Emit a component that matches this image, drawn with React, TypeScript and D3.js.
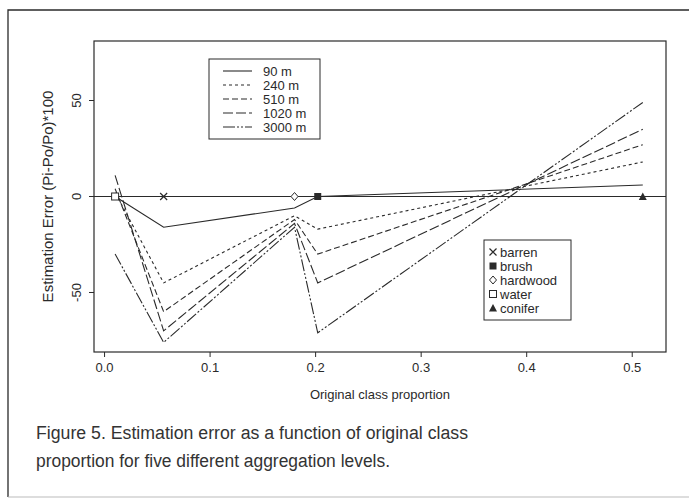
import React from "react";
import * as d3 from "d3";

// Class proportions at which each aggregation level was evaluated
const proportions = [0.01, 0.056, 0.18, 0.202, 0.51];

// Estimation error (%) per aggregation level
const levels = ["90 m", "240 m", "510 m", "1020 m", "3000 m"];
const err90 = [0, -16, -6, 0, 6];
const err240 = [2, -45, -10, -17, 18];
const err510 = [4, -60, -12, -30, 27];
const err1020 = [11, -70, -14, -45, 35];
const err3000 = [-30, -76, -16, -71, 49];
const seriesValues = [err90, err240, err510, err1020, err3000];
const dashes = ["none", "3,3", "6,3", "10,3", "12,2,2,2,2,2"];

// Land cover classes marked on the zero line
const classNames = ["barren", "brush", "hardwood", "water", "conifer"];
const classProps = [0.056, 0.202, 0.18, 0.01, 0.51];

const xTicks = [0, 0.1, 0.2, 0.3, 0.4, 0.5];
const yTicks = [50, 0, -50];

const W = 689;
const H = 501;
const left = 94, right = 666, top = 41, bottom = 352;
const ink = "#2a2a2a";
const font = "'Liberation Sans', Arial, Helvetica, sans-serif";

function Marker({ kind, x, y }: { kind: string; x: number; y: number }) {
  const s = 3.5;
  switch (kind) {
    case "barren":
      return (
        <path d={`M${x - s},${y - s}L${x + s},${y + s}M${x - s},${y + s}L${x + s},${y - s}`}
          stroke={ink} strokeWidth={1.2} fill="none" />
      );
    case "brush":
      return <rect x={x - s} y={y - s} width={2 * s} height={2 * s} fill={ink} />;
    case "hardwood":
      return (
        <path d={`M${x},${y - s - 0.5}L${x + s},${y}L${x},${y + s + 0.5}L${x - s},${y}Z`}
          stroke={ink} strokeWidth={1} fill="white" />
      );
    case "water":
      return <rect x={x - s} y={y - s} width={2 * s} height={2 * s} stroke={ink} strokeWidth={1} fill="white" />;
    default:
      return <path d={`M${x},${y - s - 0.5}L${x + s + 0.5},${y + s}L${x - s - 0.5},${y + s}Z`} fill={ink} />;
  }
}

export default function App() {
  const x = d3.scaleLinear().domain([-0.01, 0.532]).range([left, right]);
  const y = d3.scaleLinear().domain([-81, 81]).range([bottom, top]);
  const line = d3
    .line<number>()
    .x((_, i) => x(proportions[i]))
    .y((v) => y(v));

  const lg1 = { x0: 209, y0: 59, x1: 320, y1: 139 };
  const lg2 = { x0: 484, y0: 240, x1: 571, y1: 320 };

  return (
    <div style={{ position: "absolute", left: 0, top: 0 }}>
      <svg width={W} height={H} style={{ display: "block", background: "white" }}>
        {/* outer figure frame */}
        <path d={`M8,497L8,10L${W + 2},10`} stroke={ink} strokeWidth={1.3} fill="none" />
        <path d={`M8,497L${W},497`} stroke="#bbb" strokeWidth={1} fill="none" />

        {/* plot box */}
        <rect x={left} y={top} width={right - left} height={bottom - top} fill="none" stroke={ink} strokeWidth={1.2} />

        {/* x axis */}
        {xTicks.map((t) => (
          <g key={t}>
            <line x1={x(t)} x2={x(t)} y1={bottom} y2={bottom + 5} stroke={ink} strokeWidth={1} />
            <text x={x(t)} y={bottom + 20} textAnchor="middle" fontFamily={font} fontSize={13} fill={ink}>
              {d3.format(".1f")(t)}
            </text>
          </g>
        ))}
        <text x={(left + right) / 2} y={399} textAnchor="middle" fontFamily={font} fontSize={13} fill={ink}>
          Original class proportion
        </text>

        {/* y axis */}
        {yTicks.map((t) => (
          <g key={t}>
            <line x1={left} x2={left - 5} y1={y(t)} y2={y(t)} stroke={ink} strokeWidth={1} />
            <text transform={`translate(${left - 13},${y(t)}) rotate(-90)`} textAnchor="middle"
              fontFamily={font} fontSize={13} fill={ink}>
              {t}
            </text>
          </g>
        ))}
        <text transform={`translate(53,${(top + bottom) / 2}) rotate(-90)`} textAnchor="middle"
          fontFamily={font} fontSize={15} fill={ink}>
          Estimation Error (Pi-Po/Po)*100
        </text>

        {/* zero reference line */}
        <line x1={left} x2={right} y1={y(0)} y2={y(0)} stroke={ink} strokeWidth={1.2} />

        {/* error curves */}
        {seriesValues.map((vals, i) => (
          <path key={levels[i]} d={line(vals) || ""} fill="none" stroke={ink} strokeWidth={1.1}
            strokeDasharray={dashes[i]} />
        ))}

        {/* class markers */}
        {classNames.map((c, i) => (
          <Marker key={c} kind={c} x={x(classProps[i])} y={y(0)} />
        ))}

        {/* aggregation level legend */}
        <rect x={lg1.x0} y={lg1.y0} width={lg1.x1 - lg1.x0} height={lg1.y1 - lg1.y0} fill="white" stroke={ink} strokeWidth={1} />
        {levels.map((lv, i) => {
          const cy = 71 + i * 14;
          return (
            <g key={lv}>
              <line x1={223} x2={252} y1={cy} y2={cy} stroke={ink} strokeWidth={1.1} strokeDasharray={dashes[i]} />
              <text x={263} y={cy + 4.5} fontFamily={font} fontSize={13} fill={ink}>{lv}</text>
            </g>
          );
        })}

        {/* land cover legend */}
        <rect x={lg2.x0} y={lg2.y0} width={lg2.x1 - lg2.x0} height={lg2.y1 - lg2.y0} fill="white" stroke={ink} strokeWidth={1} />
        {classNames.map((c, i) => {
          const cy = 252 + i * 14;
          return (
            <g key={c}>
              <Marker kind={c} x={493} y={cy} />
              <text x={500} y={cy + 4.5} fontFamily={font} fontSize={13} fill={ink}>{c}</text>
            </g>
          );
        })}

        {/* caption */}
        <text x={36} y={439} fontFamily={font} fontSize={18} fill="#333" textLength={432} lengthAdjust="spacingAndGlyphs">
          Figure 5. Estimation error as a function of original class
        </text>
        <text x={36} y={467} fontFamily={font} fontSize={18} fill="#333" textLength={354} lengthAdjust="spacingAndGlyphs">
          proportion for five different aggregation levels.
        </text>
      </svg>
    </div>
  );
}
